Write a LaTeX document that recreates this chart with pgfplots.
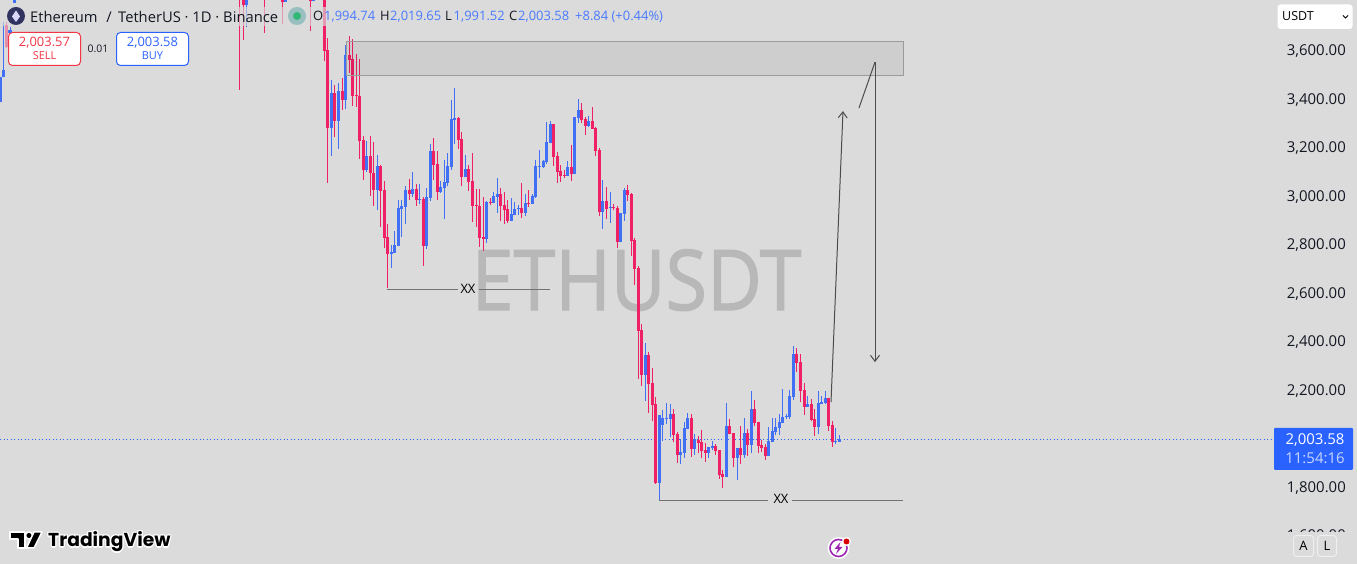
\documentclass[border=0pt]{standalone}
\usepackage{pgfplots}
\pgfplotsset{compat=1.18}
\usepackage{pgfplotstable}
\usepackage{fontspec}
\setmainfont{Open Sans}
\newfontfamily\tvfont{Poppins}
\newfontfamily\wmfont[FakeBold=1.6]{Open Sans}
\usetikzlibrary{arrows.meta}
\definecolor{bgc}{RGB}{219,219,219}
\definecolor{upc}{RGB}{66,112,245}
\definecolor{dnc}{RGB}{240,32,100}
\definecolor{tvblue}{RGB}{41,98,255}
\definecolor{tvred}{RGB}{242,54,69}
\definecolor{wm}{RGB}{184,184,184}
\definecolor{txt}{RGB}{19,23,34}
\definecolor{flash}{RGB}{156,39,176}
\pgfplotstableread{
x o h l c
0.5 3384 3487 3384 3487
3.5 3487 3713 3487 3515
10 3668 3693 3668 3680
14 3792 3850 3792 3830
246.5 3784 3850 3693 3830
285.3 3797 3850 3797 3830
313.3 3798 3850 3798 3830
331.5 3276 3474 3161 3421
338 3305 3462 3190 3429
345.5 3392 3619 3355 3577
366.7 3103 3223 3095 3161
377.3 3021 3165 2938 3120
391 2758 2794 2699 2765
394.3 2761 2852 2761 2794
398.3 2791 2979 2791 2946
401.7 2942 2979 2828 2955
405.3 2950 3037 2880 3021
412.3 3004 3095 2993 3025
419.3 2981 3045 2963 2983
426.3 2791 3029 2777 2990
430.3 2988 3210 2977 3181
440.3 3012 3058 3010 3033
444.3 3029 3144 2901 3054
447.3 3051 3172 3037 3120
451.3 3115 3392 3103 3313
454.3 3309 3441 3210 3318
465.3 3074 3165 3073 3107
486.3 2819 2974 2802 2971
493.3 2967 3012 2966 2996
497.3 2992 3070 2924 3004
511.3 2893 2988 2891 2922
514.3 2917 2971 2916 2942
518.3 2942 2959 2917 2946
525.3 2926 3004 2913 2967
532.3 2963 3004 2963 2996
535.3 2992 3144 2988 3120
539.3 3115 3186 3070 3120
543.3 3115 3144 3111 3140
546.3 3136 3301 3128 3219
550.3 3216 3305 3213 3293
567.3 3078 3140 3078 3115
574.3 3087 3322 3087 3322
578.3 3318 3396 3298 3351
588.3 3285 3326 3282 3305
602.3 2930 3062 2860 2975
610.3 2948 3012 2884 2950
620.3 2806 2926 2806 2926
624.3 2922 3029 2893 3021
645.3 2258 2390 2150 2340
659.3 1812 2093 1742 2093
662.3 2052 2113 1986 2080
666.3 2078 2142 2056 2080
670.3 2076 2138 2002 2097
680.3 1928 1994 1891 1940
684.3 1936 2064 1915 2039
687.3 2035 2101 2035 2080
694.3 1953 2014 1928 1994
708.3 1936 1961 1915 1961
712.3 1957 1985 1948 1965
726.3 1837 2142 1837 2047
737.3 1915 1957 1825 1957
744.3 1928 2080 1915 2018
751.3 1969 2192 1936 2117
768.3 1924 2043 1924 1985
772.3 1981 2080 1981 2027
775.3 2023 2080 2010 2043
779.3 2039 2097 2010 2064
782.3 2060 2200 2060 2084
786.3 2084 2097 2076 2089
789.3 2084 2196 2076 2171
793.3 2167 2377 2155 2344
807.3 2126 2171 2126 2138
818.3 2043 2192 2014 2142
821.3 2138 2171 2138 2146
825.3 2142 2192 2138 2163
835.3 1981 2039 1973 1985
839.3 1981 2010 1981 1994
}\upcandles
\pgfplotstableread{
x o h l c
6.5 3700 3713 3606 3610
239.5 3840 3850 3433 3830
243.5 3830 3850 3639 3784
264.3 3850 3860 3668 3840
282.3 3850 3860 3705 3797
310.3 3850 3860 3676 3798
324.3 3830 3850 3554 3595
327.5 3598 3647 3051 3277
334.5 3421 3454 3239 3305
342 3429 3482 3351 3392
349.5 3577 3656 3503 3557
352.5 3561 3643 3367 3408
356.5 3412 3581 3363 3408
359.5 3408 3561 3148 3224
363.3 3227 3243 3062 3103
370.3 3161 3243 2996 3089
373.3 3089 3219 2955 3021
380.3 3120 3122 2869 3018
384.3 3021 3058 2783 2824
387.3 2827 2879 2615 2758
409.3 3021 3066 2979 3004
416.3 3025 3045 2955 2979
423.3 2983 2992 2707 2791
433.3 3181 3234 3062 3124
437.3 3128 3181 2979 3012
458.3 3318 3323 3190 3227
461.3 3231 3260 3037 3074
468.3 3107 3124 3016 3054
472.3 3058 3173 2889 2955
476.3 2959 3023 2868 2955
479.3 2955 3025 2786 2823
483.3 2827 2992 2769 2819
490.3 2970 2988 2959 2967
500.3 3004 3029 2893 2955
504.3 2959 3012 2880 2938
507.3 2942 2979 2884 2893
521.3 2946 3049 2905 2926
528.3 2967 3021 2950 2963
553.3 3293 3293 3120 3157
557.3 3161 3177 3049 3095
560.3 3099 3124 3054 3078
564.3 3082 3103 3070 3078
571.3 3115 3206 3058 3087
581.3 3351 3379 3298 3309
585.3 3313 3322 3247 3285
592.3 3305 3363 3272 3272
595.3 3276 3280 3161 3181
599.3 3186 3194 2913 2930
606.3 2975 3033 2901 2942
613.3 2950 2963 2938 2946
617.3 2946 2955 2783 2806
627.3 3021 3041 2975 3000
631.3 3004 3008 2748 2810
634.3 2814 2823 2629 2695
638.3 2699 2707 2241 2441
641.3 2443 2468 2212 2258
648.3 2340 2353 2101 2221
652.3 2225 2287 2068 2134
655.3 2138 2167 1808 1812
673.3 2097 2117 1981 2010
677.3 2014 2023 1895 1928
691.3 2080 2097 1920 1953
698.3 1990 2006 1936 1977
701.3 1981 2031 1915 1944
705.3 1948 1977 1899 1936
715.3 1965 1973 1928 1944
719.3 1948 1948 1829 1845
722.3 1849 1866 1792 1837
729.3 2047 2076 2014 2014
733.3 2018 2018 1878 1915
740.3 1957 2047 1891 1928
747.3 2018 2035 1924 1969
754.3 2117 2155 2047 2060
758.3 2064 2064 1936 1965
761.3 1969 1990 1940 1957
765.3 1961 1973 1907 1924
796.3 2344 2369 2270 2307
800.3 2311 2344 2146 2192
804.3 2196 2225 2093 2126
811.3 2138 2159 2068 2072
814.3 2076 2117 2006 2043
828.3 2163 2163 2027 2047
832.3 2051 2068 1961 1981
}\dncandles
\begin{document}
\begin{tikzpicture}
\useasboundingbox (0,0) rectangle (1357bp,564bp);
\begin{axis}[
  at={(0,0)},anchor=south west,scale only axis,width=1357bp,height=564bp,
  xmin=0,xmax=1357,ymin=1478.4,ymax=3804.1,
  axis background/.style={fill=bgc},
  axis line style={draw=none},
  major tick length=0,
  xtick=\empty,
  ytick={1800,2200,2400,2600,2800,3000,3200,3400,3600},
  scaled y ticks=false,
  yticklabel pos=left,
  y tick label style={anchor=east,xshift=1346bp,yshift=-1.8bp,inner sep=0pt,text=txt,
    font=\fontsize{15}{15}\selectfont,
    /pgf/number format/.cd,fixed,fixed zerofill,precision=2,1000 sep={,},assume math mode=true},
  clip=true,
]
% watermark
\node[text=wm,inner sep=0pt] at (axis cs:636.5,2649) {\scalebox{0.9}[1]{\wmfont\fontsize{84}{84}\selectfont ETHUSDT}};
% last price line
\addplot[tvblue,line width=0.8bp,dash pattern=on 1bp off 2.5bp,forget plot] coordinates {(0,1992)(1272,1992)};
% wicks
\addplot[draw=none,mark=none,forget plot,error bars/.cd,y dir=plus,y explicit,error mark=none,error bar style={draw=dnc,line width=1bp}]
  table[x=x,y=l,y error plus expr=\thisrow{h}-\thisrow{l}] {\dncandles};
\addplot[draw=none,mark=none,forget plot,error bars/.cd,y dir=plus,y explicit,error mark=none,error bar style={draw=upc,line width=1bp}]
  table[x=x,y=l,y error plus expr=\thisrow{h}-\thisrow{l}] {\upcandles};
% bodies
\addplot[draw=none,mark=none,forget plot,error bars/.cd,y dir=plus,y explicit,error mark=none,error bar style={draw=dnc,line width=3bp}]
  table[x=x,y=c,y error plus expr=\thisrow{o}-\thisrow{c}] {\dncandles};
\addplot[draw=none,mark=none,forget plot,error bars/.cd,y dir=plus,y explicit,error mark=none,error bar style={draw=upc,line width=3bp}]
  table[x=x,y=o,y error plus expr=\thisrow{c}-\thisrow{o}] {\upcandles};
% zone
\addplot[draw={rgb,255:red,155;green,155;blue,155},line width=1bp,fill=black,fill opacity=0.055,forget plot]
  coordinates {(346,3631)(903,3631)(903,3491)(346,3491)} -- cycle;
% levels
\addplot[gray!90!black,line width=1bp,forget plot] coordinates {(387,2610)(458,2610)};
\addplot[gray!90!black,line width=1bp,forget plot] coordinates {(479,2610)(550,2610)};
\addplot[gray!90!black,line width=1bp,forget plot] coordinates {(659,1742)(768,1742)};
\addplot[gray!90!black,line width=1bp,forget plot] coordinates {(792,1742)(903,1742)};
\node[text=black,font=\fontsize{13}{13}\selectfont,inner sep=0pt] at (axis cs:468,2614) {XX};
\node[text=black,font=\fontsize{13}{13}\selectfont,inner sep=0pt] at (axis cs:781,1746) {XX};
% arrows
\addplot[black!70,line width=1bp,-{Straight Barb[length=6bp,width=9bp]},forget plot] coordinates {(831,2146)(843,3346)};
\addplot[black!70,line width=1bp,forget plot] coordinates {(859,3359)(875,3548)};
\addplot[black!70,line width=1bp,-{Straight Barb[length=6bp,width=9bp]},forget plot] coordinates {(875,3548)(875,2311)};
\end{axis}
\begin{scope}[x=1bp,y=-1bp,shift={(0bp,564bp)}]
% header veil
\fill[bgc,opacity=0.65] (2,7) rectangle (330,26);
\fill[bgc,opacity=0.6] (4.5,26) rectangle (8,50);
% coin icon
\fill[black!70!blue!60!gray] (16,16) circle (9);
\fill[white!85!blue] (16,10.5)--(20,16.5)--(16,22)--(12,16.5)--cycle;
\node[anchor=west,inner sep=0pt,text=txt,font=\fontsize{14.8}{15}\selectfont] at (30,16.5) {Ethereum\,\, / \,TetherUS · 1D · Binance};
\fill[teal!30!bgc] (297,16) circle (9);
\fill[teal!70!green!80!white] (297,16) circle (4);
% OHLC
\foreach \xa/\xb/\la/\va in {313/324/O/{1,994.74},380/390/H/{2,019.65},445/453.5/L/{1,991.52},509/518/C/{2,003.58}}{
  \node[anchor=base west,inner sep=0pt,text=txt,font=\fontsize{13}{13}\selectfont] at (\xa,21) {\la};
  \node[anchor=base west,inner sep=0pt,text=tvblue!85!white,font=\fontsize{13}{13}\selectfont] at (\xb,21) {\va};
}
\node[anchor=base west,inner sep=0pt,text=tvblue!85!white,font=\fontsize{13}{13}\selectfont] at (575,21) {+8.84 (+0.44\%)};
% sell / buy
\draw[tvred,fill=white,line width=1bp,rounded corners=4bp] (8.5,32.5) rectangle (80.5,65.5);
\node[text=tvred,inner sep=0pt,anchor=base,font=\fontsize{13}{13}\selectfont] at (44.5,46.5) {2,003.57};
\node[text=tvred,inner sep=0pt,anchor=base,font=\fontsize{11}{11}\selectfont] at (44.5,60) {SELL};
\node[text=txt,inner sep=0pt,font=\fontsize{10.5}{10.5}\selectfont] at (98,48.5) {0.01};
\draw[tvblue,fill=white,line width=1bp,rounded corners=4bp] (116.5,32.5) rectangle (188.5,65.5);
\node[text=tvblue,inner sep=0pt,anchor=base,font=\fontsize{13}{13}\selectfont] at (152.5,46.5) {2,003.58};
\node[text=tvblue,inner sep=0pt,anchor=base,font=\fontsize{11}{11}\selectfont] at (152.5,60) {BUY};
% currency button
\fill[white,rounded corners=3bp] (1277.5,4.5) rectangle (1352.5,29);
\node[anchor=west,text=black,inner sep=0pt,font=\fontsize{12.5}{12.5}\selectfont] at (1282,16.5) {USDT};
\draw[black,line width=1bp] (1343,15.5)--(1345.5,18)--(1348,15.5);
% clipped lower tick
\begin{scope}
\clip (1270,529) rectangle (1357,531.8);
\node[anchor=base east,inner sep=0pt,text=txt,font=\fontsize{15}{15}\selectfont] at (1346,541) {1,600.00};
\end{scope}
% price tag
\fill[tvblue,rounded corners=1bp] (1274,428) rectangle (1353,470);
\node[text=white,inner sep=0pt,anchor=base,font=\fontsize{15}{15}\selectfont] at (1315,444.5) {2,003.58};
\node[text=white!75!tvblue,inner sep=0pt,anchor=base,font=\fontsize{15}{15}\selectfont] at (1315,463.5) {11:54:16};
% A L buttons
\draw[white!55!bgc,rounded corners=3bp,line width=1bp] (1293.5,535.5) rectangle (1313.5,556.5);
\draw[white!55!bgc,rounded corners=3bp,line width=1bp] (1317.5,535.5) rectangle (1336.5,556.5);
\node[text=black,inner sep=0pt,font=\fontsize{13}{13}\selectfont] at (1303.5,546) {A};
\node[text=black,inner sep=0pt,font=\fontsize{13}{13}\selectfont] at (1327,546) {L};
% TradingView mark
\foreach \dx/\dy in {-1.2/0,1.2/0,0/-1.2,0/1.2,-1/-1,1/-1,-1/1,1/1}{
  \node[anchor=base west,inner sep=0pt,text=white,font=\tvfont\bfseries\fontsize{18.8}{20}\selectfont] at (48+\dx,547+\dy) {TradingView};
}
\node[anchor=base west,inner sep=0pt,text=black,font=\tvfont\bfseries\fontsize{18.8}{20}\selectfont] at (48,547) {TradingView};
\draw[white,line width=1.5bp,line join=round,fill=black] (10,532)--(25,532)--(25,548)--(18,548)--(18,539)--(10,539)--cycle;
\draw[white,line width=1.5bp,fill=black] (29,535.5) circle (3.5);
\draw[white,line width=1.5bp,line join=round,fill=black] (34,532)--(42,532)--(34,548)--(26.5,548)--cycle;
% flash icon
\fill[white] (838.5,548) circle (11);
\draw[flash,line width=1.6bp] (838.5,548) circle (8.5);
\fill[flash] (840.5,542)--(834.5,549)--(838,549)--(836,554)--(842.5,547)--(839,547)--cycle;
\fill[white] (846.5,541.5) circle (4.5);
\fill[red!85!black] (846.5,541.5) circle (3);
\end{scope}
\end{tikzpicture}
\end{document}
